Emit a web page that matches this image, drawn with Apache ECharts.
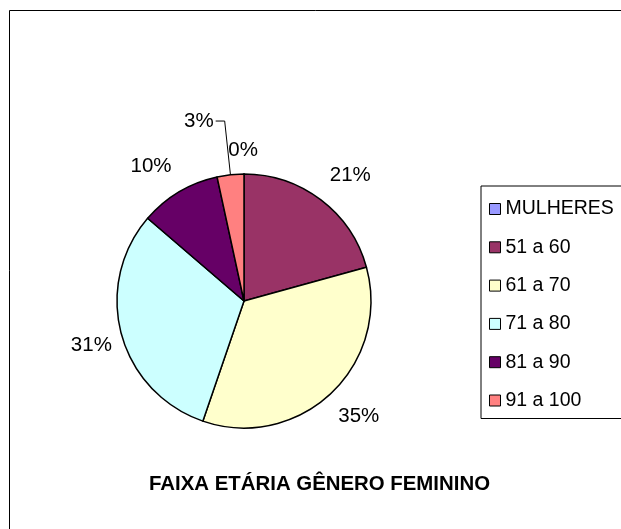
<!DOCTYPE html>
<html>
<head>
<meta charset="utf-8">
<script src="https://cdn.jsdelivr.net/npm/echarts@6/dist/echarts.min.js"></script>
<style>
html,body{margin:0;padding:0;background:#fff;}
#chart{width:621px;height:529px;}
</style>
</head>
<body>
<div id="chart"></div>
<script>
// ---- data ----
var categories = ['MULHERES', '51 a 60', '61 a 70', '71 a 80', '81 a 90', '91 a 100'];
var shares = [0, 20.7, 34.5, 31.0, 10.3, 3.4];   // percent of total
var titleText = 'FAIXA ETÁRIA GÊNERO FEMININO';

// ---- styling ----
var colors = ['#9999FF', '#993366', '#FFFFCC', '#CCFFFF', '#660066', '#FF8080'];
var FONT = 'Arial, "Liberation Sans", sans-serif';
// per-slice label placement tuning: [labelLine length, length2, distanceToLabelLine, showLine]
var labelTune = [
  [24, 0, -14, false],
  [31, 0, -10, false],
  [31, 0, -14, false],
  [41, 0, -30, false],
  [30, 0, -8, false],
  [54, 9, 2, true]
];

var seriesData = categories.map(function (name, i) {
  var t = labelTune[i];
  return {
    name: name,
    value: shares[i],
    itemStyle: { color: colors[i] },
    label: { distanceToLabelLine: t[2] },
    labelLine: { show: t[3], length: t[0], length2: t[1] }
  };
});

var chart = echarts.init(document.getElementById('chart'), null, { renderer: 'canvas' });
chart.setOption({
  animation: false,
  backgroundColor: '#ffffff',
  color: colors,
  graphic: [{
    type: 'rect',
    shape: { x: 9.5, y: 10.5, width: 700, height: 600 },
    style: { fill: 'none', stroke: '#000', lineWidth: 1 },
    silent: true,
    z: -10
  }],
  title: {
    text: titleText,
    left: 149,
    top: 474,
    padding: 0,
    textStyle: { fontFamily: FONT, fontSize: 20.4, fontWeight: 'bold', color: '#000', lineHeight: 20 }
  },
  legend: {
    orient: 'vertical',
    left: 481,
    top: 186,
    padding: [13, 60, 8, 8],
    borderColor: '#000',
    borderWidth: 1,
    itemWidth: 11,
    itemHeight: 11,
    itemGap: 18.3,
    itemTextGap: 11,
    icon: 'rect',
    data: categories,
    itemStyle: { borderColor: '#000', borderWidth: 1 },
    textStyle: { fontFamily: FONT, fontSize: 19.5, lineHeight: 19, color: '#000' }
  },
  series: [{
    type: 'pie',
    center: [244, 301],
    radius: 127,
    startAngle: 90,
    clockwise: true,
    avoidLabelOverlap: false,
    percentPrecision: 0,
    itemStyle: { borderColor: '#000', borderWidth: 1.5 },
    label: {
      show: true,
      position: 'outside',
      formatter: '{d}%',
      fontFamily: FONT,
      fontSize: 20.5,
      color: '#000'
    },
    labelLine: { lineStyle: { color: '#000', width: 1 }, smooth: false },
    emphasis: { disabled: true },
    data: seriesData
  }]
});
</script>
</body>
</html>
